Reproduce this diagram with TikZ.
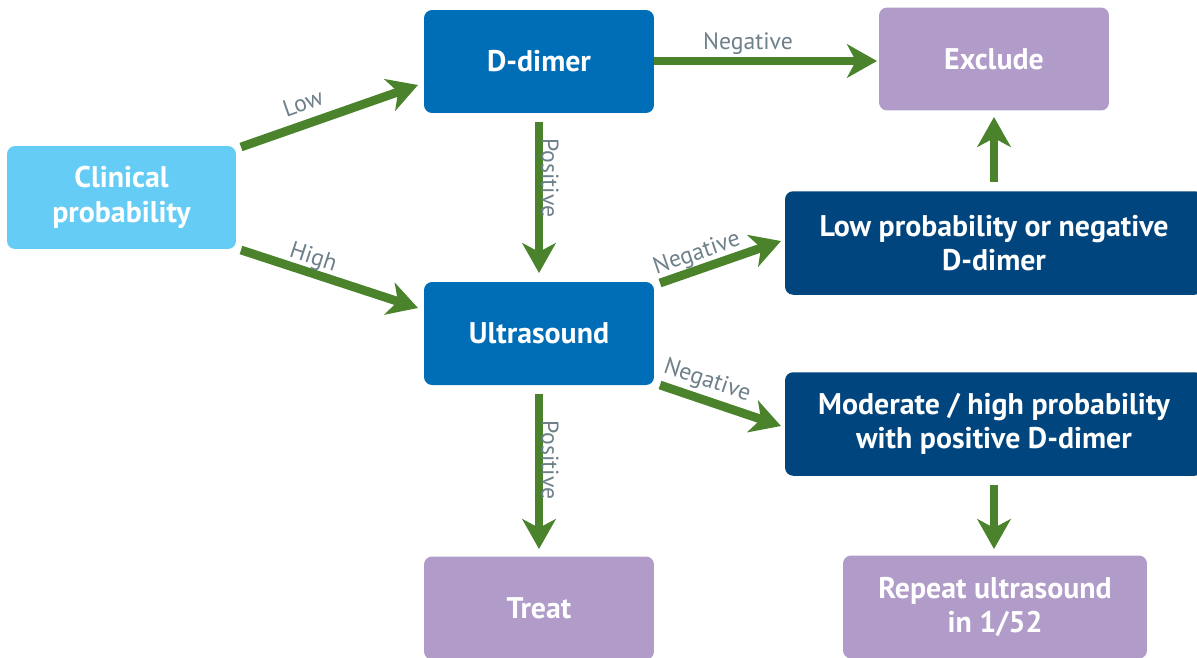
\documentclass[tikz,border=0pt]{standalone}
\usepackage{fontspec}
\setmainfont{PT Sans}
\usetikzlibrary{arrows.meta,calc}
\definecolor{cLight}{HTML}{65CDF5}
\definecolor{cMid}{HTML}{006DB7}
\definecolor{cNavy}{HTML}{01457E}
\definecolor{cPurple}{HTML}{B09BC9}
\definecolor{cGreen}{HTML}{4A832C}
\definecolor{cLabel}{HTML}{6E8089}
\tikzset{
  box/.style={rounded corners=0.16cm, text=white, font=\bfseries\fontsize{17}{19.5}\selectfont, align=center, inner sep=0pt},
  lightbox/.style={box, fill=cLight, minimum width=4.58cm, minimum height=2.06cm},
  midbox/.style={box, fill=cMid, minimum width=4.6cm, minimum height=2.06cm},
  navybox/.style={box, fill=cNavy, minimum width=8.36cm, minimum height=2.07cm},
  purplebox/.style={box, fill=cPurple, minimum height=2.06cm},
  flow/.style={draw=cGreen, line width=5pt, -{Stealth[length=17pt,width=19pt,inset=5pt]}},
  lbl/.style={text=cLabel, font=\fontsize{13.5}{15}\selectfont, inner sep=0pt}
}
\begin{document}
\begin{tikzpicture}[x=0.02cm,y=-0.02cm]
\useasboundingbox (0,0) rectangle (1197,657);
% nodes
\node[lightbox] (clin) at (121.5,197.5) {Clinical\\probability};
\node[midbox] (dd) at (539,61.5) {D-dimer};
\node[purplebox, minimum width=4.6cm] (excl) at (994,59) {Exclude};
\node[midbox] (us) at (539,333.5) {Ultrasound};
\node[navybox] (low) at (994,243) {Low probability or negative\\D-dimer};
\node[navybox] (mod) at (994,424) {Moderate / high probability\\with positive D-dimer};
\node[purplebox, minimum width=4.6cm] (treat) at (539,608) {Treat};
\node[purplebox, minimum width=6.08cm] (rep) at (995,607) {Repeat ultrasound\\in 1/52};
% arrow end points
\coordinate (lowS) at (241,147);
\coordinate (lowE) at (418,85);
\coordinate (highS) at (241,250);
\coordinate (highE) at (418,308);
\coordinate (dnegS) at (654,61);
\coordinate (dnegE) at (877,61);
\coordinate (dposS) at (539,122);
\coordinate (dposE) at (539,273);
\coordinate (un1S) at (660,283);
\coordinate (un1E) at (781,241);
\coordinate (un2S) at (660,385);
\coordinate (un2E) at (781,426);
\coordinate (uposS) at (539,394);
\coordinate (uposE) at (539,549);
\coordinate (lexS) at (994,182);
\coordinate (lexE) at (994,117);
\coordinate (mrS) at (994,485);
\coordinate (mrE) at (994,549);
% connectors
\draw[flow] (lowS) -- (lowE);
\draw[flow] (highS) -- (highE);
\draw[flow] (dnegS) -- (dnegE);
\draw[flow] (dposS) -- (dposE);
\draw[flow] (un1S) -- (un1E);
\draw[flow] (un2S) -- (un2E);
\draw[flow] (uposS) -- (uposE);
\draw[flow] (lexS) -- (lexE);
\draw[flow] (mrS) -- (mrE);
% labels
\node[lbl, rotate=19.3] (lLow) at (303,103) {Low};
\node[lbl, rotate=-18.1] (lHigh) at (313,258) {High};
\node[lbl] (lNeg1) at (748,44) {Negative};
\node[lbl, rotate=-90] (lPos1) at (550,178) {Positive};
\node[lbl, rotate=18.9] (lNeg2) at (697,254) {Negative};
\node[lbl, rotate=-18.4] (lNeg3) at (707,381) {Negative};
\node[lbl, rotate=-90] (lPos2) at (550,460) {Positive};
\end{tikzpicture}
\end{document}
